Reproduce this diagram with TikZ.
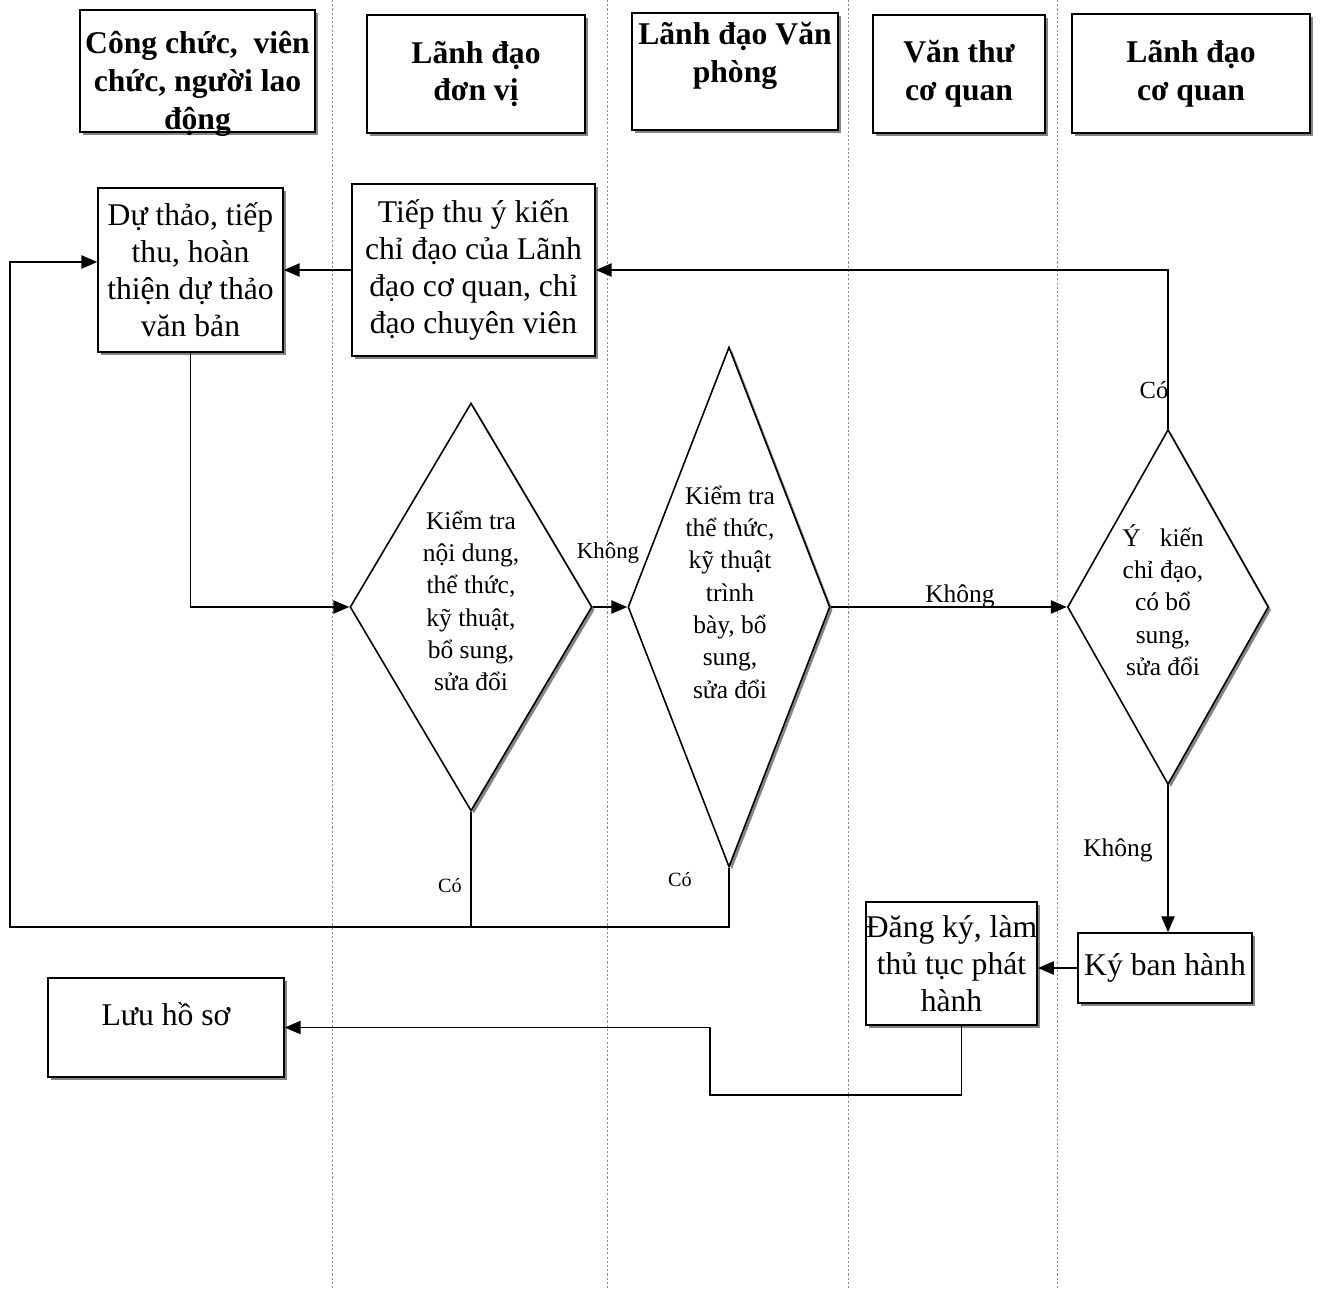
\documentclass[tikz,border=0pt]{standalone}
\usepackage{fontspec}
\setmainfont{Liberation Serif}
\usetikzlibrary{shapes.geometric,shadows,arrows.meta}
\begin{document}
\begin{tikzpicture}[x=0.02cm,y=-0.02cm,
  shd/.style={drop shadow={shadow xshift=1.6pt,shadow yshift=-1.6pt,fill=black!60,opacity=0.8}},
  hdr/.style={draw,line width=1pt,fill=white,shd,align=center,inner sep=0pt,font=\bfseries\fontsize{18}{21.5}\selectfont},
  proc/.style={draw,line width=0.9pt,fill=white,shd,align=center,inner sep=0pt,font=\fontsize{18}{21}\selectfont},
  dec/.style={diamond,draw,line width=0.9pt,fill=white,shd,inner sep=0pt},
  dtxt/.style={align=center,inner sep=0pt,font=\fontsize{14.5}{18.4}\selectfont},
  lane/.style={draw=black!45,line width=0.4pt,dash pattern=on 1.2pt off 1.2pt},
  con/.style={line width=0.9pt},
  arr/.style={con,-{Triangle[length=9pt,width=7.5pt]}},
  lbl/.style={inner sep=1pt,font=\fontsize{14}{16}\selectfont},
]
\useasboundingbox (0,0) rectangle (1327,1288);
\fill[white] (0,0) rectangle (1327,1288);

% lane separators
\coordinate (l1t) at (332,0);  \coordinate (l1b) at (332,1288);
\coordinate (l2t) at (607,0);  \coordinate (l2b) at (607,1288);
\coordinate (l3t) at (848,0);  \coordinate (l3b) at (848,1288);
\coordinate (l4t) at (1057,0); \coordinate (l4b) at (1057,1288);
\draw[lane] (l1t) -- (l1b);
\draw[lane] (l2t) -- (l2b);
\draw[lane] (l3t) -- (l3b);
\draw[lane] (l4t) -- (l4b);

% headers
\node[hdr,minimum width=4.7cm,minimum height=2.44cm,
  label={[name=h1t,yshift=-0.26cm,align=center,inner sep=0pt,font=\bfseries\fontsize{18}{21.5}\selectfont]center:{Công chức,\ \ viên\\ chức, người lao\\ động}}] (h1) at (197.5,71) {};
\node[hdr,minimum width=4.36cm,minimum height=2.36cm] (h2) at (476,74) {Lãnh đạo\\ đơn vị};
\node[hdr,minimum width=4.12cm,minimum height=2.34cm] (h3) at (735,71.5) {Lãnh đạo Văn\\ phòng\\ \mbox{}};
\node[hdr,minimum width=3.44cm,minimum height=2.36cm] (h4) at (959,74) {Văn thư\\ cơ quan};
\node[hdr,minimum width=4.76cm,minimum height=2.38cm] (h5) at (1191,73.5) {Lãnh đạo\\ cơ quan};

% process boxes
\node[proc,minimum width=3.7cm,minimum height=3.28cm] (b1) at (190.5,270) {Dự thảo, tiếp\\ thu, hoàn\\ thiện dự thảo\\ văn bản};
\node[proc,minimum width=4.86cm,minimum height=3.44cm] (b2) at (473.5,270) {Tiếp thu ý kiến\\ chỉ đạo của Lãnh\\ đạo cơ quan, chỉ\\ đạo chuyên viên};
\node[proc,minimum width=4.72cm,minimum height=1.98cm,text depth=0.55cm] (luu) at (166,1027.5) {Lưu hồ sơ};
\node[proc,minimum width=3.34cm,minimum height=2.46cm] (dk) at (951.5,963.5) {Đăng ký, làm\\ thủ tục phát\\ hành};
\node[proc,minimum width=3.48cm,minimum height=1.4cm] (kbh) at (1165,968) {Ký ban hành};

% decisions
\node[dec,minimum width=4.84cm,minimum height=8.16cm] (d1) at (471,607) {};
\node[dec,minimum width=4.04cm,minimum height=10.4cm] (d2) at (729,607) {};
\node[dec,minimum width=4.02cm,minimum height=7.1cm] (d3) at (1168,607) {};
\node[dtxt] (d1t) at (471,601) {Kiểm tra\\ nội dung,\\ thể thức,\\ kỹ thuật,\\ bổ sung,\\ sửa đổi};
\node[dtxt] (d2t) at (730,592) {Kiểm tra\\ thể thức,\\ kỹ thuật\\ trình\\ bày, bổ\\ sung,\\ sửa đổi};
\node[dtxt] (d3t) at (1163,600) {Ý\ \ \ kiến\\ chỉ đạo,\\ có bổ\\ sung,\\ sửa đổi};

% connectors
\coordinate (lpL) at (10,927);
\coordinate (rt) at (710,1095);
\draw[arr] (b2.west) -- (b1.east);
\draw[arr] (d3.north) |- (b2.east);
\draw[arr] (b1.south) |- (d1.west);
\draw[arr] (d1.east) -- (d2.west);
\draw[arr] (d2.east) -- (d3.west);
\draw[con] (d1.south) -- (d1.south |- lpL);
\draw[arr] (d2.south) |- (lpL) |- ([yshift=0.16cm]b1.west);
\draw[arr] (d3.south) -- (d3.south |- kbh.north);
\draw[arr] (kbh.west) -- (kbh.west -| dk.east);
\draw[arr] ([xshift=0.2cm]dk.south) |- (rt) |- (luu.east);

% labels
\node[lbl,font=\fontsize{11.5}{14}\selectfont] (c1) at (450,886) {Có};
\node[lbl,font=\fontsize{11.5}{14}\selectfont] (c2) at (680,880) {Có};
\node[lbl,font=\fontsize{14}{16}\selectfont] (c3) at (1154,390) {Có};
\node[lbl,font=\fontsize{13}{15}\selectfont] (k1) at (608,553) {Không};
\node[lbl,font=\fontsize{14.5}{16}\selectfont] (k2) at (960,596) {Không};
\node[lbl,font=\fontsize{14.5}{16}\selectfont] (k3) at (1118,850) {Không};
\end{tikzpicture}
\end{document}
